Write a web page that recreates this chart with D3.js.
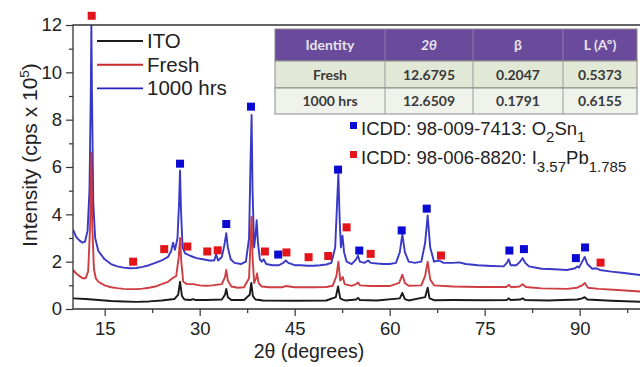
<!DOCTYPE html>
<html>
<head>
<meta charset="utf-8">
<script src="https://cdn.jsdelivr.net/npm/d3@7"></script>
<style>
body { margin: 0; background: #fff; }
text { font-family: "Liberation Sans", Arial, sans-serif; }
</style>
</head>
<body>
<script>
'use strict'

var w = 640;
var h = 367;

// XRD patterns: [2theta, intensity (x 10^5 cps)]
var ito = [[10,0.45],[12,0.42],[14,0.38],[16,0.34],[18,0.32],[20,0.3],[22,0.32],[24,0.36],[26,0.42],[26.6,0.6],[26.9,1.15],[27.2,0.55],[27.6,0.4],[28.5,0.38],[29,0.42],[29.3,0.38],[31,0.38],[33.5,0.4],[34.0,0.6],[34.2,0.85],[34.45,0.5],[35,0.38],[37,0.38],[37.9,0.6],[38.15,1.1],[38.4,0.55],[38.8,0.4],[40,0.36],[45,0.35],[50,0.36],[51.5,0.5],[51.85,0.95],[52.2,0.45],[52.6,0.4],[53,0.36],[54.7,0.4],[55.0,0.47],[55.3,0.38],[58,0.36],[61.6,0.45],[62.0,0.68],[62.4,0.42],[63,0.36],[65.6,0.5],[66.0,0.9],[66.3,0.45],[67,0.37],[70,0.38],[75,0.37],[78.5,0.38],[78.8,0.45],[79.1,0.38],[80.6,0.4],[81,0.45],[81.4,0.38],[85,0.36],[89.6,0.4],[90.4,0.45],[90.8,0.5],[91.2,0.4],[95,0.35],[100,0.3]];

var fresh = [[10,1.65],[10.5,1.5],[11,1.4],[11.5,1.3],[12,1.3],[12.4,1.6],[12.7,3.5],[12.9,6.6],[13.05,3.5],[13.3,1.7],[13.6,1.3],[14,1.15],[15,1.0],[16,0.92],[17,0.88],[18,0.85],[19,0.84],[20,0.84],[21,0.86],[22,0.9],[23,0.95],[24,1.05],[25,1.15],[25.7,1.3],[26.3,1.4],[26.7,2.2],[26.9,3.0],[27.1,2.0],[27.4,1.15],[28,1.05],[29,1.05],[30,1.0],[31,0.98],[32,1.0],[33.5,1.05],[34.0,1.35],[34.2,1.65],[34.45,1.2],[35,0.95],[36,0.9],[37,0.92],[37.8,1.3],[38.05,3.0],[38.2,3.9],[38.35,2.2],[38.6,1.1],[38.9,1.3],[39.05,1.5],[39.3,1.1],[39.8,0.95],[41,0.92],[43,0.92],[43.6,0.97],[45,0.92],[48,0.92],[50,0.93],[51,0.98],[51.6,1.4],[51.9,2.0],[52.2,1.2],[52.6,1.35],[52.9,1.05],[54,0.98],[54.7,1.05],[55.0,1.12],[55.3,1.0],[57,0.97],[60,0.97],[61.5,1.1],[62.0,1.45],[62.4,1.1],[63,0.98],[65,1.0],[65.6,1.4],[66.0,2.0],[66.4,1.25],[67,1.0],[70,0.95],[74,0.93],[78.4,0.93],[78.8,1.02],[79.2,0.92],[80.5,0.95],[81,1.05],[81.5,0.93],[84,0.87],[88,0.85],[89.6,0.9],[90.4,1.0],[90.8,1.1],[91.3,0.9],[93,0.85],[96,0.8],[100,0.73]];

var hrs1000 = [[10,3.35],[10.5,3.05],[11,2.9],[11.5,2.8],[11.9,2.85],[12.3,3.3],[12.6,5.0],[12.8,9.0],[12.9,12.0],[13.0,9.0],[13.2,4.5],[13.5,3.0],[14,2.45],[15,2.1],[16,1.9],[17,1.8],[18,1.75],[19,1.72],[20,1.73],[21,1.78],[22,1.85],[23,1.95],[24,2.05],[25,2.2],[25.5,2.45],[25.8,2.8],[26.1,2.5],[26.5,3.0],[26.75,4.5],[26.9,5.85],[27.05,4.2],[27.3,2.6],[27.7,2.35],[28.5,2.25],[29.5,2.15],[30.5,2.1],[31.5,2.05],[32.3,2.05],[32.6,2.3],[32.9,2.05],[33.5,2.2],[33.9,2.7],[34.2,3.2],[34.45,2.6],[34.9,2.1],[35.5,1.95],[36.5,1.9],[37.3,2.0],[37.8,3.0],[38.05,6.5],[38.2,8.2],[38.35,5.0],[38.6,2.6],[38.85,3.2],[39.0,3.75],[39.2,2.8],[39.5,2.1],[39.8,2.0],[40.1,2.1],[40.5,1.9],[41.5,1.85],[42.5,1.85],[43.2,1.95],[43.6,2.05],[44.0,1.95],[45,1.85],[46,1.85],[47,1.83],[48,1.83],[49,1.85],[50,1.88],[50.8,1.95],[51.4,2.6],[51.7,4.5],[51.9,5.7],[52.1,3.8],[52.3,2.6],[52.55,3.1],[52.8,2.4],[53.2,2.0],[54,1.9],[54.7,2.1],[55.0,2.25],[55.3,2.0],[56,1.95],[56.6,2.05],[57,1.95],[58,1.92],[59,1.9],[60,1.9],[61,1.95],[61.6,2.4],[62.0,3.15],[62.4,2.4],[63,2.0],[64,1.95],[65,2.0],[65.6,2.8],[66.0,3.95],[66.4,2.6],[67,2.0],[67.8,2.05],[68.5,1.95],[70,1.95],[71,1.97],[72,1.9],[74,1.85],[76,1.82],[78,1.8],[78.5,1.95],[78.8,2.1],[79.1,1.85],[80,1.85],[80.6,2.0],[81,2.15],[81.4,1.95],[82,1.8],[84,1.7],[86,1.68],[88,1.65],[89.3,1.72],[89.6,1.8],[89.9,1.75],[90.4,2.0],[90.8,2.2],[91.2,1.9],[92,1.7],[92.6,1.72],[93.2,1.65],[95,1.58],[97,1.52],[100,1.42]];

// phase markers [2theta, height]
var sno2Marks = [[26.9,6.14],[34.2,3.59],[38.1,8.55],[42.4,2.3],[51.85,5.89],[55.2,2.47],[61.9,3.32],[65.85,4.24],[78.9,2.47],[81.2,2.53],[89.4,2.15],[90.85,2.6]];
var pbiMarks = [[12.95,12.39],[19.5,2.0],[24.4,2.53],[28.05,2.64],[31.2,2.43],[32.85,2.48],[40.3,2.43],[43.7,2.39],[47.2,2.19],[50.3,2.24],[53.2,3.45],[57.0,2.33],[68.1,2.26],[93.3,1.96]];

var seriesNames = ["ITO", "Fresh", "1000 hrs"];
var seriesColors = ["#1a1a1a", "#c8282e", "#2323c0"];

var xTicks = [15, 30, 45, 60, 75, 90];
var xMinor = [22.5, 37.5, 52.5, 67.5, 82.5, 97.5];
var yTicks = [0, 2, 4, 6, 8, 10, 12];
var yMinor = [1, 3, 5, 7, 9, 11];

var tableHead = ["Identity", "2\u03B8", "\u03B2", "L (A\u00BA)"];
var tableRows = [["Fresh", "12.6795", "0.2047", "0.5373"],
                 ["1000 hrs", "12.6509", "0.1791", "0.6155"]];

var svg = d3.select("body").append("svg")
  .attr("width", w)
  .attr("height", h);

var x = d3.scaleLinear().domain([10, 100]).range([73, 643]);
var y = d3.scaleLinear().domain([0, 12]).range([309, 25]);

//clip for the curves
svg.append("clipPath").attr("id", "plot")
  .append("rect").attr("x", 73).attr("y", 25).attr("width", 570).attr("height", 284);

var line = d3.line()
  .x(function(d) { return x(d[0]); })
  .y(function(d) { return y(d[1]); });

//draw blue first, red and black over it
var data = [ito, fresh, hrs1000];
[2, 1, 0].forEach(function(i) {
  svg.append("path")
    .datum(data[i])
    .attr("clip-path", "url(#plot)")
    .attr("fill", "none")
    .attr("stroke", seriesColors[i])
    .attr("stroke-opacity", i == 0 ? 1 : 0.9)
    .attr("stroke-width", 1.9)
    .attr("stroke-linejoin", "round")
    .attr("d", line);
});

//axes
var axisColor = "#333";
svg.append("g")
  .attr("transform", "translate(0,309)")
  .call(d3.axisBottom(x).tickValues(xTicks).tickSize(7).tickPadding(6));
svg.append("g")
  .attr("transform", "translate(0,309)")
  .call(d3.axisBottom(x).tickValues(xMinor).tickSize(4).tickFormat(""));
svg.append("g")
  .attr("transform", "translate(73,0)")
  .call(d3.axisLeft(y).tickValues(yTicks).tickSize(7).tickPadding(4));
svg.append("g")
  .attr("transform", "translate(73,0)")
  .call(d3.axisLeft(y).tickValues(yMinor).tickSize(4).tickFormat(""));

svg.selectAll(".domain").remove();
svg.selectAll(".tick line").attr("stroke", axisColor).attr("stroke-width", 1.2);
svg.selectAll(".tick text")
  .attr("fill", "#222")
  .style("font-family", "'Liberation Sans', Arial, sans-serif")
  .style("font-size", "18.5px");

//frame
svg.append("path")
  .attr("d", "M643,25H73V309H643")
  .attr("fill", "none")
  .attr("stroke", axisColor)
  .attr("stroke-width", 1.3);

//markers
function drawMarks(marks, color) {
  svg.selectAll(null)
    .data(marks)
    .enter()
    .append("rect")
    .attr("x", function(d) { return x(d[0]) - 4; })
    .attr("y", function(d) { return y(d[1]) - 4; })
    .attr("width", 8)
    .attr("height", 8)
    .attr("fill", color);
}
drawMarks(sno2Marks, "#0a0ad2");
drawMarks(pbiMarks, "#e3141a");

//axis titles
svg.append("text")
  .attr("transform", "translate(37,155) rotate(-90)")
  .attr("text-anchor", "middle")
  .style("font-size", "21px")
  .attr("fill", "#222")
  .html('Intensity (cps x 10<tspan dy="-8" font-size="13.5px">5</tspan><tspan dy="8">)</tspan>');

svg.append("text")
  .attr("x", 309)
  .attr("y", 358)
  .attr("text-anchor", "middle")
  .style("font-size", "19.5px")
  .attr("fill", "#222")
  .text("2\u03B8 (degrees)");

//series legend
var leg = svg.selectAll("g.leg")
  .data(seriesNames)
  .enter()
  .append("g")
  .attr("class", "leg")
  .attr("transform", function(d, i) { return "translate(97," + (41 + i * 23.7) + ")"; });
leg.append("line")
  .attr("x1", 0).attr("x2", 46)
  .attr("stroke", function(d, i) { return seriesColors[i]; })
  .attr("stroke-width", 1.9);
leg.append("text")
  .attr("x", 50)
  .attr("y", 7)
  .style("font-size", "20.5px")
  .attr("fill", "#222")
  .text(function(d) { return d; });

//ICDD legend
svg.append("rect").attr("x", 350).attr("y", 122).attr("width", 7).attr("height", 7).attr("fill", "#0a0ad2");
svg.append("rect").attr("x", 350).attr("y", 151).attr("width", 7).attr("height", 7).attr("fill", "#e3141a");
svg.append("text")
  .attr("x", 361).attr("y", 135)
  .style("font-size", "18.5px").attr("fill", "#222")
  .html('ICDD: 98-009-7413: O<tspan dy="7" font-size="15px">2</tspan><tspan dy="-7">Sn</tspan><tspan dy="7" font-size="15px">1</tspan>');
svg.append("text")
  .attr("x", 361).attr("y", 164)
  .style("font-size", "18.5px").attr("fill", "#222")
  .html('ICDD: 98-006-8820: I<tspan dy="8" font-size="15px">3.57</tspan><tspan dy="-8">Pb</tspan><tspan dy="8" font-size="15px">1.785</tspan>');

//table
var colX = [275, 385, 473, 563, 637];
var rowY = [29, 61, 88, 114];
var rowFill = ["#6a4b9b", "#e2e8d6", "#f0f2ec"];

var table = svg.append("g").attr("class", "table");
[tableHead].concat(tableRows).forEach(function(row, r) {
  table.append("rect")
    .attr("x", colX[0]).attr("y", rowY[r])
    .attr("width", colX[4] - colX[0])
    .attr("height", rowY[r + 1] - rowY[r])
    .attr("fill", rowFill[r])
    .attr("stroke", "#8a8a8a")
    .attr("stroke-width", 1);
  row.forEach(function(cell, c) {
    if (c > 0) {
      table.append("line")
        .attr("x1", colX[c]).attr("x2", colX[c])
        .attr("y1", rowY[r]).attr("y2", rowY[r + 1])
        .attr("stroke", r == 0 ? "#8f7bb3" : "#9a9a9a");
    }
    table.append("text")
      .attr("x", (colX[c] + colX[c + 1]) / 2)
      .attr("y", (rowY[r] + rowY[r + 1]) / 2 + 5)
      .attr("text-anchor", "middle")
      .style("font-family", "Lato, 'Open Sans', sans-serif")
      .style("font-weight", "bold")
      .style("font-style", (r == 0 && c == 1) ? "italic" : "normal")
      .style("font-size", "14px")
      .attr("fill", r == 0 ? "#e6e3ee" : "#3a3a3a")
      .text(cell);
  });
});
</script>
</body>
</html>
